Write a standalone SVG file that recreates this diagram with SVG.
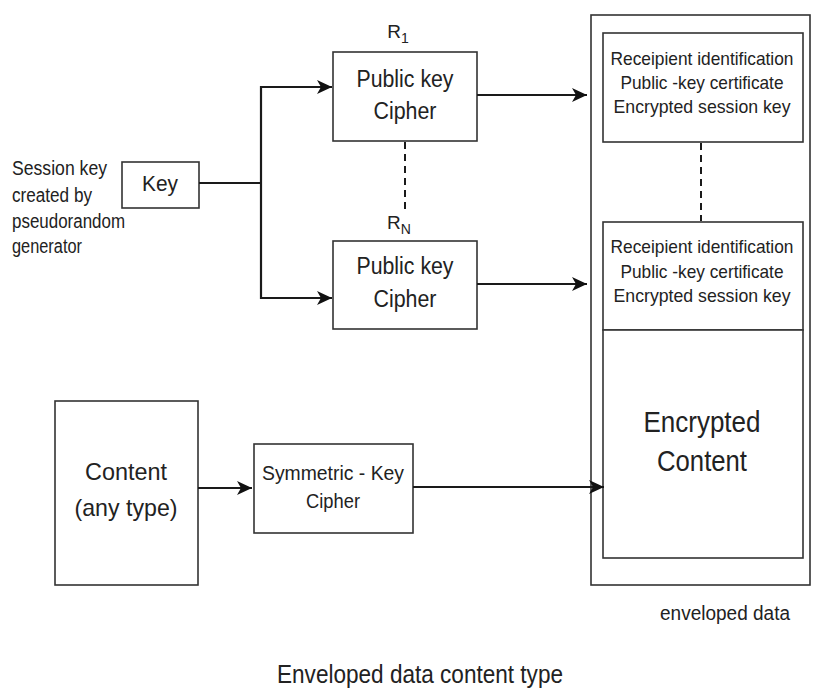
<svg xmlns="http://www.w3.org/2000/svg" width="813" height="688" viewBox="0 0 813 688">
<defs>
<style>
.box{fill:#fff;stroke:#333;stroke-width:1.6}
.ln{fill:none;stroke:#1a1a1a;stroke-width:2.2}
.dash{fill:none;stroke:#1a1a1a;stroke-width:2;stroke-dasharray:7,5}
text{font-family:"Liberation Sans",Arial,sans-serif;fill:#222}
.c{text-anchor:middle}
.rc{font-size:19px}
</style>
<marker id="ah" markerUnits="userSpaceOnUse" markerWidth="16" markerHeight="14" refX="15" refY="7" orient="auto">
<path d="M0,0 L15,7 L0,14 L4,7 z" fill="#111"/>
</marker>
</defs>
<rect width="813" height="688" fill="#fff"/>

<g id="envelope">
<rect class="box" x="591" y="15" width="219" height="570"/>
<text class="c" x="725" y="620" font-size="20" textLength="130" lengthAdjust="spacingAndGlyphs">enveloped data</text>
</g>

<g id="recipient1">
<rect class="box" x="603" y="33" width="200" height="109"/>
<text class="c rc" x="702" y="65" textLength="183" lengthAdjust="spacingAndGlyphs">Receipient identification</text>
<text class="c rc" x="702" y="89" textLength="163" lengthAdjust="spacingAndGlyphs">Public -key certificate</text>
<text class="c rc" x="702" y="113" textLength="177" lengthAdjust="spacingAndGlyphs">Encrypted session key</text>
</g>

<g id="recipientN">
<rect class="box" x="603" y="222" width="200" height="108"/>
<text class="c rc" x="702" y="253" textLength="183" lengthAdjust="spacingAndGlyphs">Receipient identification</text>
<text class="c rc" x="702" y="278" textLength="163" lengthAdjust="spacingAndGlyphs">Public -key certificate</text>
<text class="c rc" x="702" y="302" textLength="177" lengthAdjust="spacingAndGlyphs">Encrypted session key</text>
</g>

<g id="encrypted-content">
<rect class="box" x="603" y="330" width="200" height="228"/>
<text class="c" x="702" y="432" font-size="29" textLength="117" lengthAdjust="spacingAndGlyphs">Encrypted</text>
<text class="c" x="702" y="471" font-size="29" textLength="90" lengthAdjust="spacingAndGlyphs">Content</text>
</g>

<g id="session-label">
<text x="12" y="175" font-size="20" textLength="95" lengthAdjust="spacingAndGlyphs">Session key</text>
<text x="12" y="202" font-size="20" textLength="80" lengthAdjust="spacingAndGlyphs">created by</text>
<text x="12" y="228" font-size="20" textLength="113" lengthAdjust="spacingAndGlyphs">pseudorandom</text>
<text x="12" y="253" font-size="20" textLength="70" lengthAdjust="spacingAndGlyphs">generator</text>
</g>

<g id="key">
<rect class="box" x="122" y="162" width="77" height="46"/>
<text class="c" x="160" y="191" font-size="22" textLength="36" lengthAdjust="spacingAndGlyphs">Key</text>
</g>

<g id="pk1">
<text class="c" x="398" y="38" font-size="19">R<tspan font-size="14" dy="5">1</tspan></text>
<rect class="box" x="333" y="52" width="144" height="89"/>
<text class="c" x="405" y="87" font-size="23" textLength="97" lengthAdjust="spacingAndGlyphs">Public key</text>
<text class="c" x="405" y="119" font-size="23" textLength="63" lengthAdjust="spacingAndGlyphs">Cipher</text>
</g>

<g id="pkN">
<text class="c" x="399" y="229" font-size="19">R<tspan font-size="14" dy="5">N</tspan></text>
<rect class="box" x="333" y="241" width="144" height="88"/>
<text class="c" x="405" y="274" font-size="23" textLength="97" lengthAdjust="spacingAndGlyphs">Public key</text>
<text class="c" x="405" y="307" font-size="23" textLength="63" lengthAdjust="spacingAndGlyphs">Cipher</text>
</g>

<g id="content">
<rect class="box" x="55" y="401" width="143" height="184"/>
<text class="c" x="126" y="480" font-size="24" textLength="82" lengthAdjust="spacingAndGlyphs">Content</text>
<text class="c" x="126" y="516" font-size="24" textLength="103" lengthAdjust="spacingAndGlyphs">(any type)</text>
</g>

<g id="symmetric">
<rect class="box" x="254" y="444" width="159" height="89"/>
<text class="c" x="333" y="480" font-size="20" textLength="142" lengthAdjust="spacingAndGlyphs">Symmetric - Key</text>
<text class="c" x="333" y="508" font-size="20" textLength="54" lengthAdjust="spacingAndGlyphs">Cipher</text>
</g>

<g id="title">
<text class="c" x="420" y="683" font-size="25" textLength="286" lengthAdjust="spacingAndGlyphs">Enveloped data content type</text>
</g>

<g id="connectors">
<path class="ln" d="M199,183 H261"/>
<path class="ln" d="M261,86 V299"/>
<path class="ln" d="M260,87 H332" marker-end="url(#ah)"/>
<path class="ln" d="M260,298 H332" marker-end="url(#ah)"/>
<path class="ln" d="M477,95 H587" marker-end="url(#ah)"/>
<path class="ln" d="M477,284 H587" marker-end="url(#ah)"/>
<path class="ln" d="M198,488 H252" marker-end="url(#ah)"/>
<path class="ln" d="M413,487 H604" marker-end="url(#ah)"/>
<path class="dash" d="M405,142 V212"/>
<path class="dash" d="M701,143 V221"/>
</g>
</svg>
